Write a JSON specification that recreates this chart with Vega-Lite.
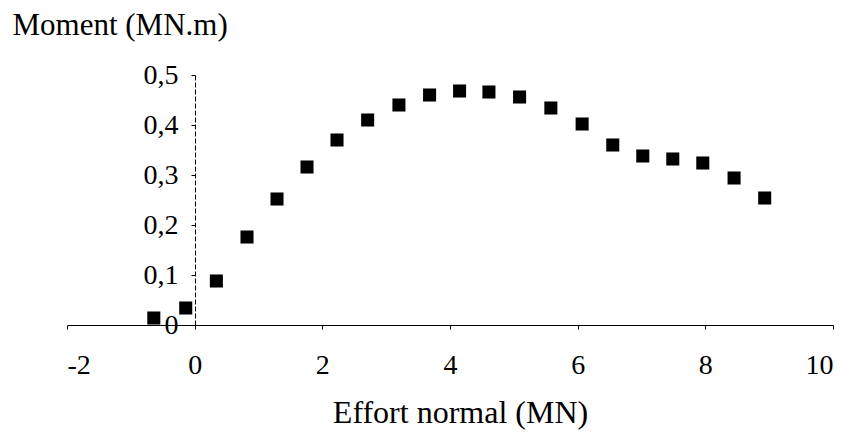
{
  "$schema": "https://vega.github.io/schema/vega-lite/v6.json",
  "autosize": "none",
  "width": 766,
  "height": 250,
  "padding": {"left": 67, "top": 75, "right": 17, "bottom": 114},
  "background": "white",
  "config": {"view": {"stroke": null}, "font": "Liberation Serif"},
  "data": {"values": [
    {"effort": -0.64, "moment": 0.014},
    {"effort": -0.14, "moment": 0.034},
    {"effort": 0.34, "moment": 0.088},
    {"effort": 0.82, "moment": 0.176},
    {"effort": 1.29, "moment": 0.252},
    {"effort": 1.76, "moment": 0.316},
    {"effort": 2.23, "moment": 0.37},
    {"effort": 2.71, "moment": 0.41},
    {"effort": 3.2, "moment": 0.44},
    {"effort": 3.68, "moment": 0.46},
    {"effort": 4.15, "moment": 0.468},
    {"effort": 4.61, "moment": 0.466},
    {"effort": 5.09, "moment": 0.456},
    {"effort": 5.58, "moment": 0.434},
    {"effort": 6.07, "moment": 0.402},
    {"effort": 6.55, "moment": 0.36},
    {"effort": 7.02, "moment": 0.338},
    {"effort": 7.49, "moment": 0.332},
    {"effort": 7.96, "moment": 0.324},
    {"effort": 8.45, "moment": 0.294},
    {"effort": 8.93, "moment": 0.254}
  ]},
  "mark": {"type": "point", "shape": "square", "filled": true, "size": 170, "color": "black", "opacity": 1},
  "encoding": {
    "x": {
      "field": "effort", "type": "quantitative",
      "scale": {"domain": [-2, 10], "nice": false, "zero": false},
      "axis": {
        "values": [-2, 0, 2, 4, 6, 8, 10],
        "grid": false,
        "domainColor": "black", "domainWidth": 1.2,
        "tickColor": "black", "tickSize": 4,
        "labelFont": "Liberation Serif", "labelFontSize": 28, "labelColor": "black",
        "labelPadding": 22,
        "labelExpr": "replace(replace(format(datum.value, '~f'), '.', ','), '\u2212', '-')",
        "title": "Effort normal (MN)",
        "titleFont": "Liberation Serif", "titleFontSize": 32, "titleFontWeight": "normal", "titleColor": "black",
        "titleX": 393, "titleY": 97, "titleAlign": "center", "titleBaseline": "alphabetic"
      }
    },
    "y": {
      "field": "moment", "type": "quantitative",
      "scale": {"domain": [0, 0.5], "nice": false},
      "axis": {
        "values": [0, 0.1, 0.2, 0.3, 0.4, 0.5],
        "offset": -128,
        "grid": false,
        "domainColor": "black", "domainWidth": 1, "domainDash": [5, 2],
        "tickColor": "black", "tickSize": 4,
        "labelFont": "Liberation Serif", "labelFontSize": 28, "labelColor": "black",
        "labelPadding": 13,
        "labelExpr": "replace(format(datum.value, '.1~f'), '.', ',')",
        "title": "Moment (MN.m)",
        "titleFont": "Liberation Serif", "titleFontSize": 31, "titleFontWeight": "normal", "titleColor": "black",
        "titleAngle": 0, "titleX": -183, "titleY": -41, "titleAlign": "left", "titleBaseline": "alphabetic"
      }
    }
  }
}
